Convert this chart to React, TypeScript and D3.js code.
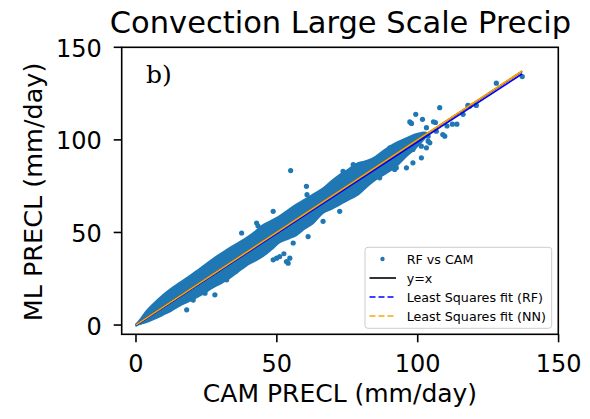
import React from "react";
import * as d3 from "d3";

// Dense band of the scatter (envelope), data units
const bandX = [0, 1, 3.8, 6.5, 9.7, 12.5, 15.6, 18.5, 21.5, 24.5, 27.4, 30.3, 33.3, 36.2, 39.2, 42.2, 45.2, 48.2, 51.1, 54, 57, 60, 62.9, 66.4, 69.3, 72.3, 75.2, 78.2, 81.2, 84.2, 87.2, 90.1, 93, 96, 99, 101.5, 103];
const bandUpper = [0.5, 2.2, 7.8, 12, 16.4, 19.8, 23, 26, 29.3, 32.6, 35.9, 38.8, 41.8, 44.4, 47.2, 50.5, 54.2, 56.6, 59.1, 62.2, 65.3, 68, 70.7, 74, 77.8, 81.3, 84, 87.2, 88.5, 90.2, 93.5, 96.6, 99, 101, 103, 104, 104];
const bandLower = [-0.5, 0.2, 1.5, 3.2, 5.5, 7.6, 10.4, 12.5, 14.8, 17.4, 20.2, 22.5, 25.3, 28.6, 32, 34.5, 37.2, 40.8, 44.6, 46.5, 48.5, 52, 54.9, 60.4, 62.5, 64.9, 67.4, 69.7, 73.5, 77.5, 80.4, 83.1, 86.5, 91, 95, 99, 101.5];

// Individual scattered points (CAM, RF)
const pointsCAM = [54.9, 60.5, 60.7, 61.1, 66.4, 54.0, 54.6, 48.7, 49.9, 52.5, 53.4, 51, 48.7, 42.8, 43.3, 37.5, 55.8, 32.2, 20.3, 26.2, 72.3, 73.5, 77.1, 90.1, 92.4, 91.8, 96.0, 98.3, 101.3, 98.3, 101.3, 104.3, 103.1, 97.2, 97.8, 99.3, 101.7, 107.8, 106.3, 105.6, 109.6, 108.9, 106.6, 112.3, 113.9, 110.4, 116.1, 117.8, 120.8, 118.4, 127.9, 137.1, 86.5, 103.7, 103.7, 103.1, 18, 24.5, 28];
const pointsRF = [83.4, 74.9, 70.4, 47.8, 56.0, 33.4, 36.1, 35.2, 36.1, 38.5, 34.3, 37, 61.4, 55.1, 53.6, 49.7, 44.3, 24.4, 13.5, 20.7, 61.4, 83.0, 86.7, 95.7, 84.9, 84.0, 84.9, 87.6, 90.3, 94.8, 96.6, 98.4, 106.6, 109.7, 108.9, 113.8, 111.1, 117.4, 109.4, 109.8, 102.0, 102.9, 104.7, 108.5, 108.5, 107.5, 113.8, 118.6, 118.6, 118.2, 130.6, 134.2, 79.5, 102, 99.3, 95.7, 8.2, 17.2, 16.3];

// Lines: y = x and least-squares fits
const lineNames = ["y=x", "Least Squares fit (RF)", "Least Squares fit (NN)"];
const lineSlopes = [1.0, 0.99, 1.0];
const lineIntercepts = [0, 0, 0.1];
const lineColors = ["#000000", "#0000ff", "#ffa500"];
const lineXRange = [0, 137.1];

const xTicks = [0, 50, 100, 150];
const yTicks = [0, 50, 100, 150];

const title = "Convection Large Scale Precip";
const xLabel = "CAM PRECL (mm/day)";
const yLabel = "ML PRECL (mm/day)";
const scatterName = "RF vs CAM";
const panelTag = "b)";

const W = 590;
const H = 419;
const L = 121.7, R = 558.3, T = 47.3, B = 334.3;
const PT = "#1f77b4";
const FONT = "DejaVu Sans, sans-serif";

export default function App() {
  const x = d3.scaleLinear().domain([-5.07, 149.9]).range([L, R]);
  const y = d3.scaleLinear().domain([-5.0, 150.0]).range([B, T]);

  const bandData = bandX.map((v, i) => ({ x: v, lo: bandLower[i], hi: bandUpper[i] }));
  const area = d3
    .area<{ x: number; lo: number; hi: number }>()
    .x((d) => x(d.x))
    .y0((d) => y(d.lo))
    .y1((d) => y(d.hi))
    .curve(d3.curveCatmullRom);

  const legendRows = [
    { label: scatterName, kind: "dot", color: PT },
    { label: lineNames[0], kind: "solid", color: lineColors[0] },
    { label: lineNames[1], kind: "dash", color: lineColors[1] },
    { label: lineNames[2], kind: "dash", color: lineColors[2] },
  ];

  return (
    <svg
      width={W}
      height={H}
      style={{ position: "absolute", left: 0, top: 0, background: "#fff" }}
      fontFamily={FONT}
    >
      <rect x={0} y={0} width={W} height={H} fill="#fff" />
      <text x={340.5} y={33} fontSize={30.5} textAnchor="middle" fill="#000">
        {title}
      </text>

      <defs>
        <clipPath id="plotclip">
          <rect x={L} y={T} width={R - L} height={B - T} />
        </clipPath>
      </defs>

      <g clipPath="url(#plotclip)">
        <path d={area(bandData) || ""} fill={PT} stroke={PT} strokeWidth={1.5} strokeLinejoin="round" />
        {pointsCAM.map((cx, i) => (
          <circle key={i} cx={x(cx)} cy={y(pointsRF[i])} r={2.6} fill={PT} />
        ))}
        {lineSlopes.map((s, i) => {
          const x0 = lineXRange[0];
          const x1 = lineXRange[1];
          return (
            <line
              key={i}
              x1={x(x0)}
              y1={y(s * x0 + lineIntercepts[i])}
              x2={x(x1)}
              y2={y(s * x1 + lineIntercepts[i])}
              stroke={lineColors[i]}
              strokeWidth={1.7}
            />
          );
        })}
      </g>

      <text x={146} y={83.3} fontSize={25} fontFamily="DejaVu Serif, serif" fill="#000">
        {panelTag}
      </text>

      {/* Legend */}
      <g>
        <rect x={365} y={247.3} width={186.7} height={81} rx={3} fill="#fff" fillOpacity={0.8} stroke="#cccccc" strokeWidth={1} />
        {legendRows.map((r, i) => {
          const cy = 259 + i * 19;
          return (
            <g key={i}>
              {r.kind === "dot" ? (
                <circle cx={382.5} cy={cy} r={2.2} fill={r.color} />
              ) : (
                <line
                  x1={369.5}
                  x2={396}
                  y1={cy}
                  y2={cy}
                  stroke={r.color}
                  strokeWidth={1.6}
                  strokeDasharray={r.kind === "dash" ? "6,3" : undefined}
                />
              )}
              <text x={406.7} y={cy} dy="0.36em" fontSize={12.7} fill="#000">
                {r.label}
              </text>
            </g>
          );
        })}
      </g>

      {/* Frame */}
      <rect x={L} y={T} width={R - L} height={B - T} fill="none" stroke="#000" strokeWidth={1.6} />

      {/* X ticks */}
      {xTicks.map((t) => (
        <g key={"x" + t}>
          <line x1={x(t)} x2={x(t)} y1={B} y2={B + 8} stroke="#000" strokeWidth={1.6} />
          <text x={x(t)} y={371.5} fontSize={24} textAnchor="middle" fill="#000">
            {t}
          </text>
        </g>
      ))}
      {/* Y ticks */}
      {yTicks.map((t) => (
        <g key={"y" + t}>
          <line x1={L - 8} x2={L} y1={y(t)} y2={y(t)} stroke="#000" strokeWidth={1.6} />
          <text x={L - 20} y={y(t)} dy="0.4em" fontSize={24} textAnchor="end" fill="#000">
            {t}
          </text>
        </g>
      ))}

      <text x={(L + R) / 2} y={401.5} fontSize={25} textAnchor="middle" fill="#000">
        {xLabel}
      </text>
      <text
        transform={`translate(42,192) rotate(-90)`}
        fontSize={25.5}
        textAnchor="middle"
        fill="#000"
      >
        {yLabel}
      </text>
    </svg>
  );
}
